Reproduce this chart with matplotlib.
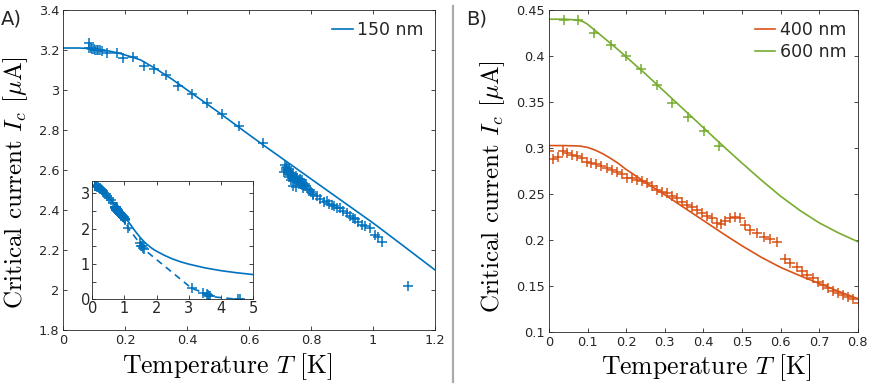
import matplotlib
matplotlib.use("Agg")
import matplotlib.pyplot as plt
from matplotlib.lines import Line2D
from matplotlib.ticker import FixedLocator

# ---------------- data ----------------
# Panel A : 150 nm (fit curve)
T_fit150 = [0, 0.05, 0.1, 0.125, 0.15, 0.175, 0.2, 0.225, 0.25, 0.3, 0.35, 0.4, 0.45, 0.5, 0.55,
            0.6, 0.65, 0.7, 0.8, 0.9, 1.0, 1.1, 1.2, 1.3, 1.4, 1.5, 1.6, 1.7, 1.8, 1.9, 2.0,
            2.25, 2.5, 2.75, 3.0, 3.5, 4.0, 4.5, 5.0]
I_fit150 = [3.210, 3.210, 3.206, 3.201, 3.194, 3.186, 3.175, 3.163, 3.150, 3.105, 3.055, 3.000,
            2.945, 2.890, 2.833, 2.776, 2.720, 2.665, 2.555, 2.445, 2.335, 2.218, 2.100, 1.970,
            1.850, 1.740, 1.640, 1.555, 1.480, 1.415, 1.360, 1.240, 1.140, 1.060, 0.995, 0.890,
            0.810, 0.750, 0.700]

T_dat150 = [0.084, 0.084, 0.090, 0.094, 0.098, 0.102, 0.108, 0.113, 0.118, 0.124, 0.140, 0.172,
            0.194, 0.226, 0.261, 0.293, 0.332, 0.371, 0.415, 0.463, 0.511, 0.568, 0.644,
            0.716, 0.718, 0.720, 0.714, 0.722, 0.725, 0.724, 0.728, 0.730, 0.732, 0.727, 0.735,
            0.738, 0.740, 0.736, 0.742, 0.745, 0.748, 0.744, 0.750, 0.752, 0.755, 0.758, 0.760,
            0.742, 0.752, 0.763, 0.765, 0.768, 0.770, 0.772, 0.775, 0.778, 0.780, 0.775, 0.785,
            0.790, 0.795, 0.800, 0.805,
            0.807, 0.820, 0.830, 0.840, 0.850, 0.858, 0.867, 0.875, 0.885, 0.893, 0.902, 0.915,
            0.925, 0.935, 0.942, 0.952, 0.963, 0.975, 0.990, 1.006, 1.015, 1.028, 1.112]
I_dat150 = [3.237, 3.208, 3.210, 3.205, 3.203, 3.200, 3.200, 3.200, 3.199, 3.197, 3.183, 3.183,
            3.158, 3.163, 3.120, 3.103, 3.075, 3.020, 2.980, 2.937, 2.880, 2.820, 2.737,
            2.625, 2.610, 2.600, 2.590, 2.615, 2.595, 2.580, 2.605, 2.590, 2.575, 2.565, 2.585,
            2.570, 2.560, 2.550, 2.580, 2.565, 2.555, 2.545, 2.570, 2.550, 2.560, 2.545, 2.535,
            2.520, 2.515, 2.555, 2.540, 2.530, 2.548, 2.525, 2.535, 2.520, 2.530, 2.510, 2.520,
            2.505, 2.500, 2.490, 2.480,
            2.475, 2.470, 2.455, 2.440, 2.445, 2.430, 2.425, 2.420, 2.410, 2.408, 2.395, 2.383,
            2.372, 2.360, 2.353, 2.340, 2.325, 2.320, 2.308, 2.275, 2.265, 2.240, 2.020]

# inset: continuation of the 150 nm data beyond 1.2 K
T_ext150 = [1.48, 1.52, 1.55, 1.57, 1.60, 3.09, 3.45, 3.55, 3.60, 3.62, 3.65, 4.53, 4.60]
I_ext150 = [1.58, 1.52, 1.50, 1.45, 1.42, 0.31, 0.19, 0.15, 0.12, 0.10, 0.08, 0.00, 0.00]

# Panel B : 400 nm and 600 nm
T_fit400 = [0, 0.04, 0.08, 0.10, 0.12, 0.14, 0.16, 0.18, 0.20, 0.25, 0.3, 0.35, 0.4, 0.45, 0.5,
            0.55, 0.6, 0.65, 0.7, 0.75, 0.8]
I_fit400 = [0.3025, 0.3025, 0.3020, 0.3005, 0.2975, 0.2935, 0.2885, 0.2830, 0.2765, 0.2625,
            0.2490, 0.2350, 0.2210, 0.2070, 0.1935, 0.1810, 0.1700, 0.1610, 0.1525, 0.1440, 0.1360]
T_fit600 = [0, 0.04, 0.06, 0.08, 0.09, 0.10, 0.11, 0.12, 0.14, 0.16, 0.18, 0.2, 0.25, 0.3, 0.35,
            0.4, 0.45, 0.5, 0.55, 0.6, 0.65, 0.7, 0.75, 0.8]
I_fit600 = [0.4400, 0.4400, 0.4395, 0.4385, 0.4370, 0.4345, 0.4310, 0.4275, 0.4205, 0.4135,
            0.4065, 0.3990, 0.3805, 0.3610, 0.3415, 0.3220, 0.3025, 0.2835, 0.2650, 0.2475,
            0.2320, 0.2185, 0.2075, 0.1980]

T_dat400 = [0.000, 0.011, 0.024, 0.035, 0.046, 0.059, 0.072, 0.085, 0.098, 0.110, 0.123, 0.136,
            0.149, 0.162, 0.175, 0.188, 0.201, 0.214, 0.227, 0.240, 0.253, 0.266, 0.279, 0.292,
            0.305, 0.318, 0.331, 0.344, 0.357, 0.370, 0.383, 0.396, 0.409, 0.422, 0.4345, 0.447,
            0.456, 0.4695, 0.482, 0.495, 0.508, 0.521, 0.538, 0.556, 0.573, 0.590,
            0.6115, 0.624, 0.642, 0.655, 0.668, 0.685, 0.698, 0.711, 0.724, 0.737, 0.750, 0.763,
            0.776, 0.789, 0.804]
I_dat400 = [0.2968, 0.2874, 0.2900, 0.2970, 0.2947, 0.2920, 0.2910, 0.2885, 0.2850, 0.2840,
            0.2830, 0.2800, 0.2776, 0.2758, 0.2740, 0.2715, 0.2667, 0.2667, 0.2650, 0.2642,
            0.2613, 0.2584, 0.2540, 0.2522, 0.2504, 0.2475, 0.2450, 0.2414, 0.2377, 0.2352,
            0.2323, 0.2287, 0.2258, 0.2232, 0.2178, 0.2167, 0.2207, 0.2232, 0.2243, 0.2232,
            0.2160, 0.2106, 0.2070, 0.2033, 0.2004, 0.1979,
            0.1787, 0.1750, 0.1700, 0.1663, 0.1616, 0.1580, 0.1544, 0.1507, 0.1471, 0.1446,
            0.1417, 0.1395, 0.1373, 0.1352, 0.1308]
T_dat600 = [0.039, 0.076, 0.117, 0.160, 0.1995, 0.2384, 0.279, 0.3195, 0.359, 0.4017, 0.441]
I_dat600 = [0.4389, 0.4389, 0.4246, 0.4118, 0.3999, 0.3854, 0.3683, 0.3491, 0.3339, 0.3183, 0.302]

# ticks
xticks_A = [0, 0.2, 0.4, 0.6, 0.8, 1.0, 1.2]
xlabels_A = ["0", "0.2", "0.4", "0.6", "0.8", "1", "1.2"]
yticks_A = [1.8, 2.0, 2.2, 2.4, 2.6, 2.8, 3.0, 3.2, 3.4]
ylabels_A = ["1.8", "2", "2.2", "2.4", "2.6", "2.8", "3", "3.2", "3.4"]
xticks_B = [0, 0.1, 0.2, 0.3, 0.4, 0.5, 0.6, 0.7, 0.8]
xlabels_B = ["0", "0.1", "0.2", "0.3", "0.4", "0.5", "0.6", "0.7", "0.8"]
yticks_B = [0.1, 0.15, 0.2, 0.25, 0.3, 0.35, 0.4, 0.45]
ylabels_B = ["0.1", "0.15", "0.2", "0.25", "0.3", "0.35", "0.4", "0.45"]
xticks_in = [0, 1, 2, 3, 4, 5]
yticks_in = [0, 1, 2, 3]
yminor_in = [0.5, 1.5, 2.5]

# ---------------- style ----------------
BLUE = "#0072BD"
ORANGE = "#D95319"
GREEN = "#77AC30"
DARK = "#262626"
plt.rcParams["mathtext.fontset"] = "cm"
TICKFONT = "DejaVu Sans"
LABELFONT = ["cmr10", "DejaVu Serif"]
XLAB = r"Temperature $T$ [K]"
YLAB = r"Critical current $I_c$ [$\mu$A]"

fig = plt.figure(figsize=(8.72, 3.88), dpi=100)

def style_axes(ax, size=9.3):
    for s in ax.spines.values():
        s.set_color(DARK)
        s.set_linewidth(0.6)
    ax.tick_params(which="both", direction="in", top=True, right=True, length=3.2,
                   width=0.6, color=DARK, labelcolor=DARK, labelsize=size, pad=3)
    for lab in ax.get_xticklabels() + ax.get_yticklabels():
        lab.set_fontfamily(TICKFONT)

mk = dict(marker="+", linestyle="none", markersize=6.5, markeredgewidth=1.1)

# ---- Panel A ----
axA = fig.add_axes([0.0726, 0.1495, 0.4263, 0.8247])
axA.plot(T_fit150, I_fit150, color=BLUE, lw=1.2, label="150 nm")
axA.plot(T_dat150, I_dat150, color=BLUE, **mk)
axA.set_xlim(0, 1.2)
axA.set_ylim(1.8, 3.4)
axA.set_xticks(xticks_A)
axA.set_xticklabels(xlabels_A)
axA.set_yticks(yticks_A)
axA.set_yticklabels(ylabels_A)
style_axes(axA)
axA.set_xlabel(XLAB, fontsize=18.5, family=LABELFONT)
axA.set_ylabel(YLAB, fontsize=18, family=LABELFONT)
axA.xaxis.set_label_coords(0.442, -0.066)
axA.yaxis.set_label_coords(-0.090, 0.46)
legA = axA.legend(loc="upper right", frameon=False, prop={"family": TICKFONT, "size": 12.5},
                  handlelength=1.2, handletextpad=0.25, borderaxespad=0.25)
for t in legA.get_texts():
    t.set_color(DARK)

# ---- inset ----
axI = fig.add_axes([0.1058, 0.2286, 0.1846, 0.305])
axI.plot(T_fit150, I_fit150, color=BLUE, lw=1.2)
axI.plot(T_dat150 + T_ext150, I_dat150 + I_ext150, color=BLUE, lw=1.2, linestyle=(0, (4, 3)),
         marker="+", markersize=6.5, markeredgewidth=1.1)
axI.set_xlim(0, 5)
axI.set_ylim(0, 3.35)
axI.set_xticks(xticks_in)
axI.set_yticks(yticks_in)
axI.yaxis.set_minor_locator(FixedLocator(yminor_in))
axI.set_xticklabels([str(v) for v in xticks_in])
axI.set_yticklabels([str(v) for v in yticks_in])
style_axes(axI, size=10.5)
axI.tick_params(axis="both", pad=1.5)

# ---- Panel B ----
axB = fig.add_axes([0.6296, 0.1451, 0.3540, 0.8291])
axB.plot(T_fit400, I_fit400, color=ORANGE, lw=1.2, label="400 nm")
axB.plot(T_fit600, I_fit600, color=GREEN, lw=1.2, label="600 nm")
axB.plot(T_dat400, I_dat400, color=ORANGE, **mk)
axB.plot(T_dat600, I_dat600, color=GREEN, **mk)
axB.set_xlim(0, 0.8)
axB.set_ylim(0.1, 0.45)
axB.set_xticks(xticks_B)
axB.set_xticklabels(xlabels_B)
axB.set_yticks(yticks_B)
axB.set_yticklabels(ylabels_B)
style_axes(axB)
axB.set_xlabel(XLAB, fontsize=18.5, family=LABELFONT)
axB.set_ylabel(YLAB, fontsize=18, family=LABELFONT)
axB.xaxis.set_label_coords(0.509, -0.064)
axB.yaxis.set_label_coords(-0.135, 0.45)
legB = axB.legend(loc="upper right", frameon=False, prop={"family": TICKFONT, "size": 12.5},
                  handlelength=1.2, handletextpad=0.25, borderaxespad=0.25, labelspacing=0.2)
for t in legB.get_texts():
    t.set_color(DARK)

# separator and panel labels
fig.add_artist(Line2D([453.3 / 872, 453.3 / 872], [1 - 6 / 388, 1 - 382 / 388],
                      transform=fig.transFigure, color="#ababab", lw=1.6))
fig.text(1 / 872, 1 - 19 / 388, "A)", fontsize=14, family=TICKFONT, color=DARK, va="center")
fig.text(466 / 872, 1 - 19 / 388, "B)", fontsize=14, family=TICKFONT, color=DARK, va="center")

fig.savefig("out.png", dpi=100)
